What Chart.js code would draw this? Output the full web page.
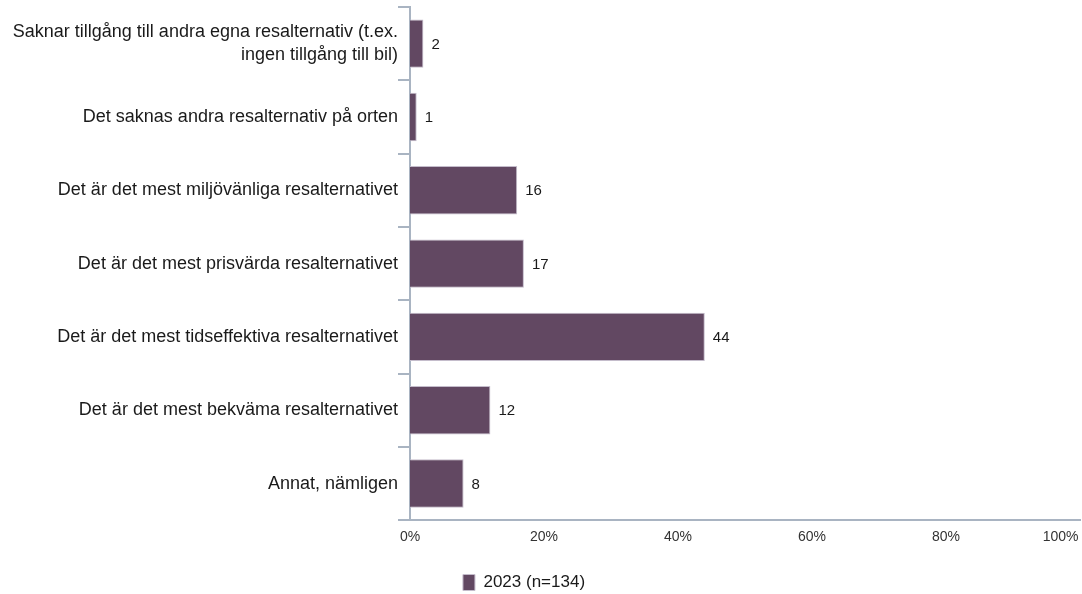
<!DOCTYPE html>
<html lang="sv">
<head>
<meta charset="utf-8">
<script src="https://cdn.jsdelivr.net/npm/chart.js@4/dist/chart.umd.min.js"></script>
<style>
  html, body { margin: 0; padding: 0; background: #fff; }
  #wrap { width: 1082px; height: 594px; position: relative; }
</style>
</head>
<body>
<div id="wrap"><canvas id="grafica"></canvas></div>
<script>
// Kategorier (svarsalternativ)
var kategorier = [
    ['Saknar tillgång till andra egna resalternativ (t.ex.', 'ingen tillgång till bil)'],
    'Det saknas andra resalternativ på orten',
    'Det är det mest miljövänliga resalternativet',
    'Det är det mest prisvärda resalternativet',
    'Det är det mest tidseffektiva resalternativet',
    'Det är det mest bekväma resalternativet',
    'Annat, nämligen'
];

// Andel i procent, 2023
var varden2023 = [2, 1, 16, 17, 44, 12, 8];
var serieNamn = '2023 (n=134)';

// Etiketter på x-axeln
var xTicks = [0, 20, 40, 60, 80, 100];

var axelFarg = '#a9b4c2';
var stapelFarg = '#624862';
var typsnitt = '"Liberation Sans", Arial, sans-serif';

// Plugin som skriver värdet till höger om varje stapel
var vardeEtiketter = {
    id: 'vardeEtiketter',
    afterDatasetsDraw: function (chart) {
        var ctx = chart.ctx;
        var meta = chart.getDatasetMeta(0);
        ctx.save();
        ctx.font = '15px ' + typsnitt;
        ctx.fillStyle = '#1a1a1a';
        ctx.textAlign = 'left';
        ctx.textBaseline = 'middle';
        meta.data.forEach(function (bar, i) {
            ctx.fillText(varden2023[i], bar.x + 8, bar.y + 1);
        });
        ctx.restore();
    }
};

// Flytta förklaringen lite åt vänster och nedåt
var flyttaLegend = {
    id: 'flyttaLegend',
    afterLayout: function (chart) {
        if (chart.legend) {
            chart.legend.left -= 16;
            chart.legend.right -= 16;
            chart.legend.top += 9;
            chart.legend.bottom += 9;
        }
    }
};

var ctx = document.getElementById('grafica').getContext('2d');
var myChart = new Chart(ctx, {
    type: 'bar',
    data: {
        labels: kategorier,
        datasets: [{
            label: serieNamn,
            data: varden2023,
            backgroundColor: stapelFarg,
            borderColor: '#c4bccb',
            borderWidth: 1,
            barPercentage: 0.66,
            categoryPercentage: 1
        }]
    },
    options: {
        indexAxis: 'y',
        responsive: true,
        maintainAspectRatio: false,
        animation: false,
        layout: { padding: { top: 7, right: 2, left: 0, bottom: 2 } },
        scales: {
            x: {
                min: 0,
                max: 100,
                afterBuildTicks: function (scale) {
                    scale.ticks = xTicks.map(function (v) { return { value: v }; });
                },
                afterFit: function (scale) {
                    scale.paddingRight = 0;
                },
                grid: { display: false, drawTicks: false },
                border: { display: true, color: axelFarg, width: 2 },
                ticks: {
                    padding: 9,
                    color: '#333',
                    font: { family: typsnitt, size: 14 },
                    callback: function (v) {
                        // sista etiketten högerjusteras med mellanslag
                        return v === 100 ? '100%          ' : v + '%';
                    }
                }
            },
            y: {
                afterFit: function (scale) {
                    scale.width = 410;
                    scale.paddingTop = 0;
                    scale.paddingBottom = 0;
                },
                grid: {
                    offset: true,
                    drawOnChartArea: false,
                    drawTicks: true,
                    tickLength: 12,
                    color: axelFarg,
                    lineWidth: 2
                },
                border: { display: true, color: axelFarg, width: 2 },
                ticks: {
                    padding: 0,
                    color: '#1a1a1a',
                    font: { family: typsnitt, size: 18, lineHeight: 1.28 }
                }
            }
        },
        plugins: {
            legend: {
                position: 'bottom',
                labels: {
                    boxWidth: 12,
                    boxHeight: 16,
                    padding: 10,
                    color: '#1a1a1a',
                    font: { family: typsnitt, size: 17 }
                }
            },
            tooltip: { enabled: false }
        }
    },
    plugins: [vardeEtiketter, flyttaLegend]
});
</script>
</body>
</html>
